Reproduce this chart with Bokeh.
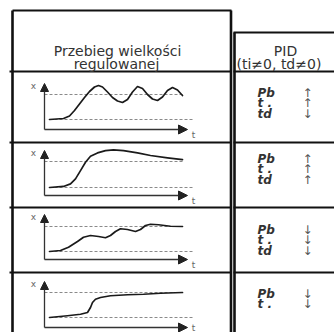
from bokeh.plotting import figure
from bokeh.models import Range1d, Arrow, NormalHead
from bokeh.core.properties import value
from bokeh.embed import file_html
from bokeh.resources import INLINE

# ---------------- data ----------------
header_left = ["Przebieg wielkości", "regulowanej"]
header_right = ["PID", "(ti≠0, td≠0)"]

# response curves: time (from the x axis origin) and response
# (0 = initial level / lower dashed line, 1 = set point / upper dashed line)
t_row1 = [5, 19, 25, 30, 35, 40, 45, 50, 54, 58, 63, 68, 73, 78, 83, 88, 93, 98, 103, 108, 113, 118, 123, 128, 133, 138]
x_row1 = [0, 0.04, 0.14, 0.36, 0.62, 0.88, 1.12, 1.30, 1.36, 1.30, 1.10, 0.88, 0.74, 0.68, 0.80, 1.10, 1.32, 1.24, 1.00, 0.82, 0.76, 0.90, 1.16, 1.28, 1.18, 0.96]

t_row2 = [5, 19, 26, 31, 36, 41, 46, 53, 61, 69, 79, 93, 106, 123, 138]
x_row2 = [0, 0.04, 0.14, 0.33, 0.65, 0.97, 1.20, 1.33, 1.42, 1.45, 1.42, 1.33, 1.23, 1.14, 1.07]

t_row3 = [5, 16, 24, 33, 39, 46, 54, 61, 66, 71, 76, 83, 91, 96, 101, 106, 114, 126, 138]
x_row3 = [0, 0.04, 0.17, 0.40, 0.57, 0.64, 0.60, 0.55, 0.64, 0.80, 0.91, 0.88, 0.80, 0.88, 1.04, 1.09, 1.07, 1.01, 1.00]

t_row4 = [5, 23, 36, 43, 46, 48, 51, 56, 66, 83, 99, 116, 138]
x_row4 = [0, 0.07, 0.13, 0.20, 0.40, 0.60, 0.73, 0.80, 0.87, 0.91, 0.93, 0.97, 1.00]

params_row1 = ["Pb", "t .", "td"]
arrows_row1 = ["↑", "↑", "↓"]
params_row2 = ["Pb", "t .", "td"]
arrows_row2 = ["↑", "↑", "↑"]
params_row3 = ["Pb", "t .", "td"]
arrows_row3 = ["↓", "↓", "↓"]
params_row4 = ["Pb", "t ."]
arrows_row4 = ["↓", "↓"]

curves_t = [t_row1, t_row2, t_row3, t_row4]
curves_x = [x_row1, x_row2, x_row3, x_row4]
params = [params_row1, params_row2, params_row3, params_row4]
arrows = [arrows_row1, arrows_row2, arrows_row3, arrows_row4]

# ---------------- layout (pixel space) ----------------
lower_y = [119, 187, 251, 317]
upper_y = [94, 161, 226, 292]
axis_y = [129, 195, 259, 327]
tip_y = [83, 150, 214, 281]
text_y0 = [92, 158, 229, 293]
axis_x = 44

W, H = 334, 332
p = figure(width=W, height=H, output_backend="svg", toolbar_location=None,
           x_range=Range1d(0, W), y_range=Range1d(H, 0),
           min_border=0, outline_line_color=None, background_fill_color="white")
p.axis.visible = False
p.grid.visible = False

BORDER = "#111111"
# table borders
p.segment(x0=[12, 233] + [9] * 4 + [233] * 4,
          y0=[10, 32] + [71, 142, 207, 272] * 2,
          x1=[231, 340] + [231] * 4 + [340] * 4,
          y1=[10, 32] + [71, 142, 207, 272] * 2,
          line_color=BORDER, line_width=2.2)
p.segment(x0=[12, 230.5, 234], y0=[10, 10, 32], x1=[12, 230.5, 234], y1=[340, 340, 340],
          line_color=BORDER, line_width=2.6)

# header
p.text(x=[117, 116], y=[50, 63], text=header_left, text_align="center", text_baseline="alphabetic",
       text_font=value("DejaVu Sans"), text_font_size=value("14px"), text_color="#333333")
p.text(x=[285], y=[50], text=header_right[:1], text_align="center", text_baseline="alphabetic",
       text_font=value("DejaVu Sans"), text_font_size=value("14px"), text_color="#333333")
p.text(x=[236], y=[63], text=header_right[1:], text_align="left", text_baseline="alphabetic",
       text_font=value("DejaVu Sans"), text_font_size=value("14px"), text_color="#333333")

for i in range(4):
    lo, up, ay, ty = lower_y[i], upper_y[i], axis_y[i], tip_y[i]
    # dashed reference lines
    p.segment(x0=[axis_x, 49], y0=[up, lo], x1=[183, 192], y1=[up, lo],
              line_color="#8a8a8a", line_width=1, line_dash="3 2")
    # axes with arrows
    p.add_layout(Arrow(end=NormalHead(size=8, fill_color="#222222", line_color="#222222"),
                       x_start=axis_x, y_start=ay, x_end=axis_x, y_end=ty,
                       line_color="#333333", line_width=1.3))
    p.add_layout(Arrow(end=NormalHead(size=9, fill_color="#222222", line_color="#222222"),
                       x_start=axis_x, y_start=ay, x_end=187, y_end=ay,
                       line_color="#333333", line_width=1.3))
    p.text(x=[33], y=[ty + 2], text=["x"], text_align="center", text_baseline="middle",
           text_font=value("DejaVu Sans"), text_font_size=value("9px"), text_color="#666666")
    p.text(x=[193], y=[min(ay + 5, H - 5)], text=["t"], text_align="center", text_baseline="middle",
           text_font=value("DejaVu Sans"), text_font_size=value("9px"), text_color="#666666")
    # response curve
    xs = [axis_x + t for t in curves_t[i]]
    ys = [lo - v * (lo - up) for v in curves_x[i]]
    p.line(xs, ys, line_color="#1a1a1a", line_width=1.7, line_join="round", line_cap="round")
    # parameter table
    n = len(params[i])
    yy = [text_y0[i] + k * 10.5 for k in range(n)]
    p.text(x=[257] * n, y=yy, text=params[i], text_align="left", text_baseline="middle",
           text_font=value("DejaVu Sans"), text_font_style="bold italic",
           text_font_size=value("12px"), text_color="#333333")
    p.text(x=[307] * n, y=yy, text=arrows[i], text_align="center", text_baseline="middle",
           text_font=value("DejaVu Sans"), text_font_size=value("12px"), text_color="#555555")

open("out.html", "w").write(file_html(p, INLINE))
